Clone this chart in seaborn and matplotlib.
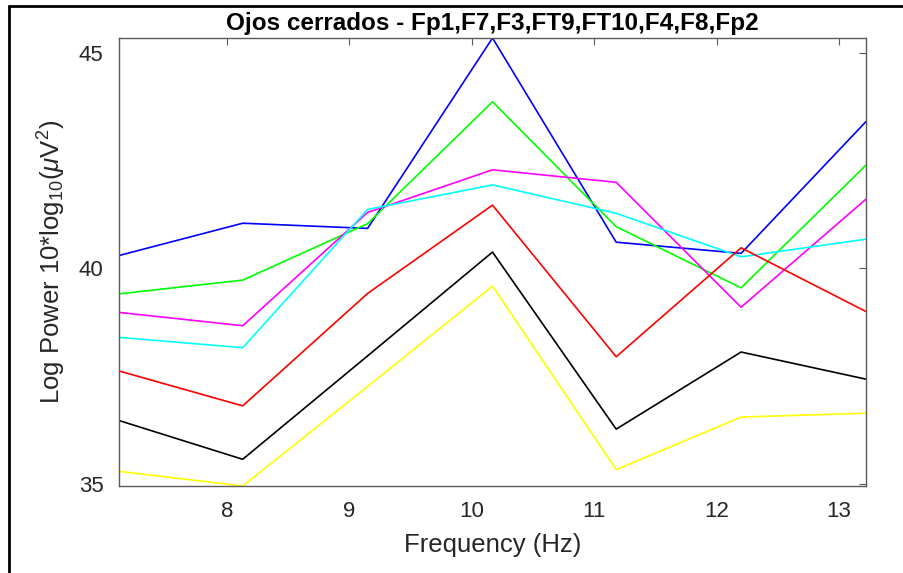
import matplotlib
matplotlib.use("Agg")
import matplotlib.pyplot as plt
from matplotlib.lines import Line2D
import seaborn as sns
import pandas as pd

freqs = [7.12, 8.13, 9.15, 10.17, 11.18, 12.20, 13.22]
blue = [40.30, 41.05, 40.93, 45.35, 40.61, 40.35, 43.41]
green = [39.41, 39.73, 41.04, 43.87, 40.97, 39.55, 42.40]
magenta = [38.98, 38.67, 41.30, 42.29, 42.00, 39.10, 41.61]
cyan = [38.40, 38.16, 41.37, 41.94, 41.28, 40.27, 40.68]
red = [37.62, 36.81, 39.42, 41.47, 37.95, 40.48, 39.00]
black = [36.47, 35.57, 37.97, 40.38, 36.27, 38.06, 37.43]
yellow = [35.29, 34.95, 37.26, 39.59, 35.33, 36.55, 36.64]

series = {"blue": blue, "green": green, "magenta": magenta, "cyan": cyan,
          "red": red, "black": black, "yellow": yellow}
colors = {"blue": "#0000ff", "green": "#00ff00", "magenta": "#ff00ff", "cyan": "#00ffff",
          "red": "#ff0000", "black": "#000000", "yellow": "#ffff00"}

rows = []
for name, vals in series.items():
    for f, v in zip(freqs, vals):
        rows.append({"freq": f, "power": v, "ch": name})
df = pd.DataFrame(rows)

sns.set_theme(style="white")
plt.rcParams['font.family'] = ['Liberation Sans', 'DejaVu Sans']
plt.rcParams['mathtext.fontset'] = 'custom'
plt.rcParams['mathtext.rm'] = 'Liberation Sans'
plt.rcParams['mathtext.it'] = 'Liberation Sans:italic'

fig = plt.figure(figsize=(9.04, 5.73), dpi=100)
ax = fig.add_axes([119/904, 1-486/573, (866-119)/904, (486-38)/573])

sns.lineplot(data=df, x="freq", y="power", hue="ch", palette=colors,
             linewidth=1.2, legend=False, ax=ax, estimator=None, sort=False)

allv = blue + green + magenta + cyan + red + black + yellow
ax.set_xlim(freqs[0], freqs[-1])
ax.set_ylim(min(allv), max(allv))
ax.set_xticks([8, 9, 10, 11, 12, 13])
ax.set_yticks([35, 40, 45])

for s in ax.spines.values():
    s.set_visible(True)
    s.set_color("#5a5a5a")
    s.set_linewidth(1.0)

ax.tick_params(direction="in", length=5, width=0.8, color="#5a5a5a",
               top=True, right=True, labelsize=16, labelcolor="#262626", pad=11)

ax.set_xlabel("Frequency (Hz)", fontsize=18.5, color="#262626", labelpad=8)
ax.set_ylabel(r"Log Power 10*log$_{10}$($\mu$V$^2$)", fontsize=18.5, color="#262626", labelpad=8)
ax.set_title("Ojos cerrados - Fp1,F7,F3,FT9,FT10,F4,F8,Fp2", fontsize=17.5,
             fontweight="bold", color="black", pad=6)

# outer frame lines (top and left)
fig.add_artist(Line2D([9/904, 1.0], [1-6/573, 1-6/573], transform=fig.transFigure,
                      color="black", linewidth=2))
fig.add_artist(Line2D([9/904, 9/904], [0, 1-6/573], transform=fig.transFigure,
                      color="black", linewidth=2))

fig.savefig("out.png", dpi=100, facecolor="white")
